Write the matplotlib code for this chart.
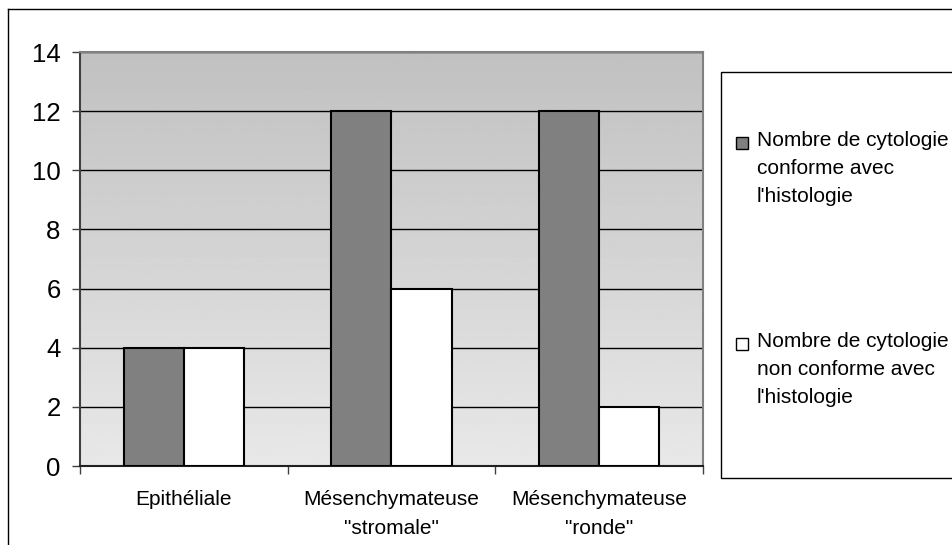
import numpy as np
import matplotlib
matplotlib.use('Agg')
import matplotlib.pyplot as plt
from matplotlib.patches import Rectangle
from matplotlib.lines import Line2D

plt.rcParams['font.family'] = ['Liberation Sans', 'DejaVu Sans']

'''Data'''
categories = ['Epithéliale', 'Mésenchymateuse\n"stromale"', 'Mésenchymateuse\n"ronde"']
conforme = [4, 12, 12]
non_conforme = [4, 6, 2]
series_labels = ["Nombre de cytologie\nconforme avec\nl'histologie",
                 "Nombre de cytologie\nnon conforme avec\nl'histologie"]
series_colors = ['#808080', '#ffffff']
y_ticks = [0, 2, 4, 6, 8, 10, 12, 14]

fig = plt.figure(figsize=(9.53, 5.45), dpi=100)
ax = fig.add_axes([80/953, 1 - 466/545, 623/953, 414/545])

# gradient background of the plot area (dark on top, light at bottom)
grad = np.linspace(0.755, 0.91, 256).reshape(-1, 1)
ax.imshow(grad, extent=[0, 1, 0, 1], transform=ax.transAxes, aspect='auto',
          cmap='gray', vmin=0, vmax=1, origin='upper', zorder=0)

x = np.arange(len(categories))
w = 0.289
ax.bar(x - w/2, conforme, w, color=series_colors[0], edgecolor='black', linewidth=1.5, zorder=3)
ax.bar(x + w/2, non_conforme, w, color=series_colors[1], edgecolor='black', linewidth=1.5, zorder=3)

ax.set_xlim(-0.5, len(categories) - 0.5)
ax.set_ylim(0, 14)
ax.set_yticks(y_ticks)
ax.yaxis.grid(True, color='black', linewidth=1)
ax.set_axisbelow(True)

ax.set_xticks(x)
ax.set_xticklabels(categories, fontsize=15, linespacing=1.7)
ax.tick_params(axis='x', which='major', length=0, pad=17)
ax.set_xticks(np.arange(-0.5, len(categories)), minor=True)
ax.tick_params(axis='x', which='minor', length=6, width=1, direction='out', color='#404040')
ax.tick_params(axis='y', labelsize=18.5, length=6, width=1, pad=8, color='#404040')

for s in ['top', 'right']:
    ax.spines[s].set_color('#808080')
    ax.spines[s].set_linewidth(1.5)
ax.spines['left'].set_color('#404040')
ax.spines['left'].set_linewidth(1.5)
ax.spines['bottom'].set_color('#202020')
ax.spines['bottom'].set_linewidth(1.5)

# outer chart border (left and top visible)
fig.add_artist(Line2D([8/953, 8/953], [0, 1 - 9/545], color='black', linewidth=1, transform=fig.transFigure))
fig.add_artist(Line2D([8/953, 1.01], [1 - 9/545, 1 - 9/545], color='black', linewidth=1, transform=fig.transFigure))

# legend box
fig.add_artist(Rectangle((721/953, 1 - 478/545), 0.3, 406/545, transform=fig.transFigure,
                         facecolor='white', edgecolor='black', linewidth=1))
entry_y = [143, 344]
for ey, lab, col in zip(entry_y, series_labels, series_colors):
    fig.add_artist(Rectangle((736/953, 1 - (ey + 6)/545), 12/953, 12/545, transform=fig.transFigure,
                             facecolor=col, edgecolor='black', linewidth=1))
    fig.text(757/953, 1 - (ey - 12)/545, lab, fontsize=15, va='top', ha='left', linespacing=1.6)

fig.savefig('out.png', dpi=100)
